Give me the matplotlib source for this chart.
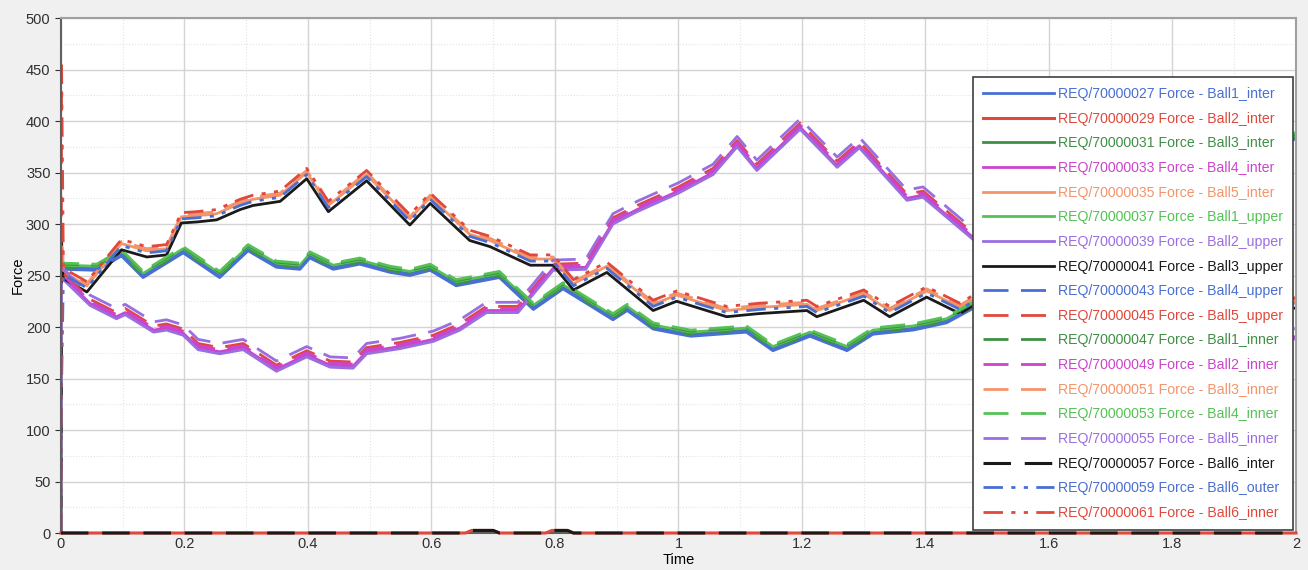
import numpy as np
import matplotlib.pyplot as plt
from matplotlib.ticker import MultipleLocator

# Force vs time for the ball contact requests

# group A: the upper group early on (Ball3_upper, Ball6_outer/inner, ...)
t_a = [0.004, 0.042, 0.098, 0.139, 0.171, 0.195, 0.22, 0.252, 0.29, 0.311, 0.355,
       0.398, 0.433, 0.495, 0.565, 0.598, 0.662, 0.695, 0.76, 0.797, 0.83, 0.884,
       0.959, 0.997, 1.078, 1.13, 1.208, 1.224, 1.3, 1.342, 1.402, 1.456, 1.483,
       1.6, 1.75, 1.9, 2.0]
f_a = [247, 234, 275, 268, 270, 301, 302, 304, 314, 318, 322,
       344, 312, 342, 299, 320, 284, 278, 260, 260, 236, 253,
       216, 225, 210, 213, 216, 210, 226, 210, 229, 213, 223,
       235, 225, 230, 218]

# group B: the green / blue bundle around 260
t_b = [0.004, 0.058, 0.098, 0.133, 0.198, 0.257, 0.303, 0.349, 0.387, 0.403, 0.441,
       0.484, 0.533, 0.565, 0.598, 0.64, 0.71, 0.765, 0.813, 0.894, 0.917, 0.959,
       1.02, 1.11, 1.153, 1.213, 1.273, 1.315, 1.38, 1.434, 1.48,
       1.6, 1.75, 1.9, 2.0]
f_b = [259, 258, 272, 251, 275, 251, 277, 261, 259, 270, 259,
       264, 256, 253, 258, 243, 251, 220, 240, 210, 219, 201,
       194, 198, 180, 194, 180, 196, 200, 207, 222,
       260, 310, 355, 386]

# group C: the purple / magenta bundle (low first, peak near 1.2 s)
t_c = [0.004, 0.047, 0.09, 0.104, 0.15, 0.171, 0.198, 0.222, 0.257, 0.295, 0.349,
       0.398, 0.436, 0.473, 0.495, 0.549, 0.603, 0.646, 0.689, 0.74, 0.797, 0.85,
       0.894, 0.933, 1.0, 1.056, 1.095, 1.127, 1.197, 1.257, 1.293, 1.37, 1.396,
       1.483, 1.6, 1.75, 1.9, 2.0]
f_c = [246, 221, 208, 212, 195, 197, 192, 178, 174, 178, 157,
       171, 161, 160, 174, 179, 186, 197, 214, 214, 255, 256,
       300, 312, 330, 348, 375, 352, 392, 355, 374, 323, 326,
       282, 250, 225, 205, 188]

# zero lines with the two small bumps
t_z = [0, 0.655, 0.665, 0.70, 0.71, 0.785, 0.795, 0.82, 0.83, 2.0]
f_z = [0, 0, 2.5, 2.5, 0, 0, 2.5, 2.5, 0, 0]

labels = ["REQ/70000027 Force - Ball1_inter", "REQ/70000029 Force - Ball2_inter",
          "REQ/70000031 Force - Ball3_inter", "REQ/70000033 Force - Ball4_inter",
          "REQ/70000035 Force - Ball5_inter", "REQ/70000037 Force - Ball1_upper",
          "REQ/70000039 Force - Ball2_upper", "REQ/70000041 Force - Ball3_upper",
          "REQ/70000043 Force - Ball4_upper", "REQ/70000045 Force - Ball5_upper",
          "REQ/70000047 Force - Ball1_inner", "REQ/70000049 Force - Ball2_inner",
          "REQ/70000051 Force - Ball3_inner", "REQ/70000053 Force - Ball4_inner",
          "REQ/70000055 Force - Ball5_inner", "REQ/70000057 Force - Ball6_inter",
          "REQ/70000059 Force - Ball6_outer", "REQ/70000061 Force - Ball6_inner"]
group = ["B", "Z", "B", "C", "A", "B", "C", "A", "B", "C", "B", "C", "A", "B", "C", "Z", "A", "A"]
offset = [-3, 0, -1, 2, 6, 1, 0, 0, -2, 6, 2, 4, 8, 3, 10, 0, 4, 10]
spike = [265, 0, 262, 250, 270, 262, 248, 283, 268, 252, 262, 250, 300, 262, 252, 0, 143, 458]

colors = ["#4a6fd2", "#e0483c", "#3f8f45", "#cc44cc", "#f4946a", "#55c255",
          "#9a6ee0", "#1a1a1a", "#4a6fd2", "#e0483c", "#3f8f45", "#cc44cc",
          "#f4946a", "#55c255", "#9a6ee0", "#1a1a1a", "#4a6fd2", "#e0483c"]
dash = (0, (9, 4.5))
dashdot = (0, (7, 3, 1.5, 3, 1.5, 3))
styles = ["-"] * 8 + [dash] * 8 + [dashdot] * 2

data = {"A": (t_a, f_a), "B": (t_b, f_b), "C": (t_c, f_c)}

plt.rcParams['font.family'] = ['Liberation Sans', 'DejaVu Sans']
fig = plt.figure(figsize=(13.08, 5.70), dpi=100, facecolor="#f0f0f0")
ax = fig.add_axes([0.0466, 0.0649, 0.9442, 0.9035])

for i in range(len(labels)):
    g = group[i]
    if g == "Z":
        ax.plot(t_z, f_z, color=colors[i], linestyle=styles[i], lw=2.2,
                label=labels[i], clip_on=False, zorder=3)
        continue
    tt, ff = data[g]
    t = [0, 0.001] + tt
    f = [0, spike[i]] + [v + offset[i] for v in ff]
    ax.plot(t, f, color=colors[i], linestyle=styles[i], lw=2.0, label=labels[i])

ax.set_xlim(0, 2)
ax.set_ylim(0, 500)
ax.xaxis.set_minor_locator(MultipleLocator(0.1))
ax.yaxis.set_major_locator(MultipleLocator(50))
ax.yaxis.set_minor_locator(MultipleLocator(25))
ax.set_xticks(np.arange(0, 2.01, 0.2))
ax.set_xticklabels(["0", "0.2", "0.4", "0.6", "0.8", "1", "1.2", "1.4", "1.6", "1.8", "2"])
ax.grid(which="major", color="#d4d4d4", lw=1.0)
ax.grid(which="minor", color="#e4e4e4", lw=0.8, linestyle=":")
ax.set_axisbelow(True)
ax.tick_params(which="major", labelsize=10.5, colors="#303030", length=4)
ax.tick_params(which="minor", length=0)
ax.tick_params(axis="x", length=0, pad=3)

for s in ["left", "bottom"]:
    ax.spines[s].set_color("#606060")
    ax.spines[s].set_linewidth(1.5)
for s in ["top", "right"]:
    ax.spines[s].set_color("#a0a0a0")
    ax.spines[s].set_linewidth(1.5)

ax.set_xlabel("Time", fontsize=10.5, labelpad=1)
ax.set_ylabel("Force", fontsize=10.5, labelpad=1)

leg = ax.legend(loc="upper right", bbox_to_anchor=(0.9976, 0.885), fontsize=10.2,
                labelcolor="linecolor", handlelength=5.0, handletextpad=0.3,
                labelspacing=0.75, frameon=True, fancybox=False, borderpad=0.7,
                borderaxespad=0)
leg.get_frame().set_edgecolor("#404040")
leg.get_frame().set_linewidth(1.2)
leg.get_frame().set_alpha(1)

plt.savefig("out.png", dpi=100, facecolor=fig.get_facecolor())
